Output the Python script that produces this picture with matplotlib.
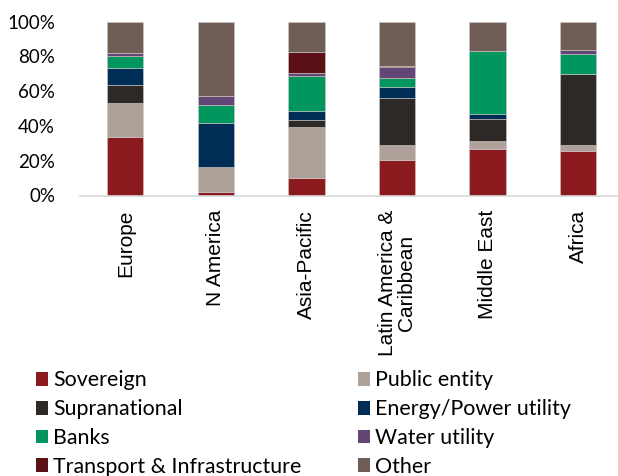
import matplotlib
matplotlib.use("Agg")
import matplotlib.pyplot as plt
from matplotlib.patches import Patch
import numpy as np

regions = ["Europe", "N America", "Asia-Pacific", "Latin America &\nCaribbean", "Middle East", "Africa"]
series_names = ["Sovereign", "Public entity", "Supranational", "Energy/Power utility",
                "Banks", "Water utility", "Transport & Infrastructure", "Other"]
sovereign = [33.4, 1.9, 10.2, 20.5, 27.0, 25.7]
public_entity = [19.7, 14.7, 29.0, 8.5, 4.6, 3.3]
supranational = [10.6, 0.0, 4.2, 27.0, 12.4, 41.1]
energy = [9.7, 24.9, 5.0, 6.2, 2.7, 0.0]
banks = [6.9, 10.6, 20.1, 5.6, 36.5, 11.4]
water = [1.7, 4.9, 1.8, 6.1, 0.0, 1.9]
transport = [0.0, 0.0, 12.3, 0.8, 0.0, 0.0]
other = [18.0, 43.0, 17.4, 25.3, 16.8, 16.6]
yticks = [0, 20, 40, 60, 80, 100]

colors = ["#8B1A1F", "#ADA19A", "#2D2926", "#002D56", "#00965E", "#624675", "#5A1014", "#6E5E56"]
data = [sovereign, public_entity, supranational, energy, banks, water, transport, other]

plt.rcParams['font.family'] = ['Lato', 'DejaVu Sans']

fig = plt.figure(figsize=(6.18, 4.76), dpi=100)
ax = fig.add_axes([80/618, 1-195.5/476, 1-80/618, (195.5-21.5)/476])

x = np.arange(len(regions))
bottom = np.zeros(len(regions))
for vals, c, name in zip(data, colors, series_names):
    v = np.array(vals)
    ax.bar(x, v, 0.4, bottom=bottom, color=c, edgecolor='#cfc8c4', linewidth=0.4, label=name)
    bottom += v

ax.set_xlim(-0.5, 5.44)
ax.set_ylim(0, 100)
ax.set_yticks(yticks)
ax.set_yticklabels([f"{t}%" for t in yticks], fontsize=13.5)
ax.set_xticks(x)
ax.set_xticklabels(regions, rotation=90, fontsize=15, va='top', ha='center',
                   linespacing=0.95, family=['Liberation Sans', 'DejaVu Sans'])
ax.tick_params(axis='both', length=0)
ax.tick_params(axis='y', pad=18)
ax.tick_params(axis='x', pad=10.5)
for s in ['left', 'right', 'top']:
    ax.spines[s].set_visible(False)
ax.spines['bottom'].set_color('#d9d9d9')
ax.spines['bottom'].set_linewidth(1.2)

order = [0, 2, 4, 6, 1, 3, 5, 7]
handles = [Patch(facecolor=colors[i], edgecolor='none') for i in order]
labels = [series_names[i] for i in order]
fig.legend(handles, labels, ncol=2, loc='upper left', bbox_to_anchor=(36/618, 1-370.5/476),
           frameon=False, fontsize=15.4, handlelength=0.56, handleheight=0.6, handletextpad=0.23,
           columnspacing=2.66, labelspacing=0.41, borderaxespad=0, borderpad=0)

fig.savefig("out.png", dpi=100)
